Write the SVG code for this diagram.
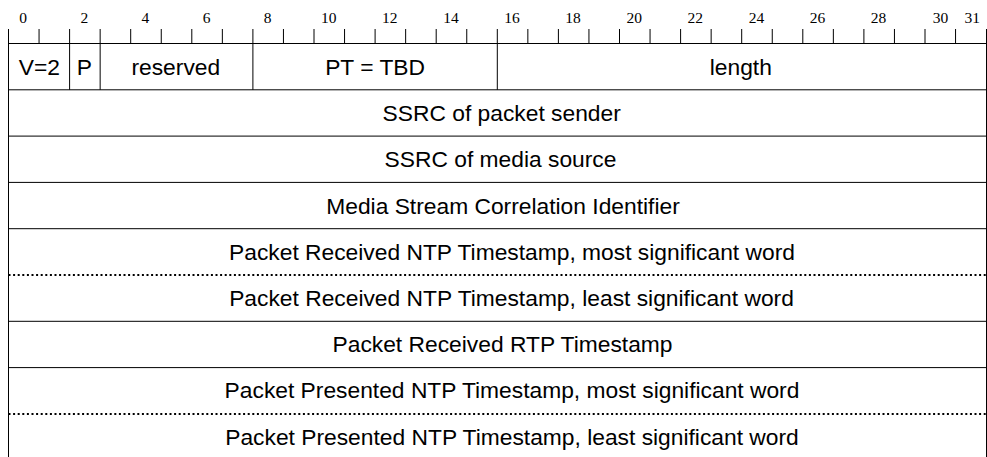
<svg xmlns="http://www.w3.org/2000/svg" width="987" height="457" viewBox="0 0 987 457">
<style>
.bg{fill:#ffffff}
.ln{stroke:#000;stroke-width:1;fill:none}
.tk{stroke:#000;stroke-width:1;fill:none}
.dot{stroke:#000;stroke-width:2;stroke-dasharray:2 2.6;fill:none}
.num{font-family:"Liberation Serif","Times New Roman",serif;font-size:15.5px;fill:#000;text-anchor:middle}
.lbl{font-family:"Liberation Sans",Arial,sans-serif;font-size:22.8px;fill:#000;text-anchor:middle}
</style>
<rect class="bg" x="0" y="0" width="987" height="457"/>
<g id="ruler">
<g class="tk">
<path d="M8.5 29V43.5M39.05 29V43.5M69.6 29V43.5M100.15 29V43.5M130.7 29V43.5M161.25 29V43.5M191.8 29V43.5M222.35 29V43.5M252.9 29V43.5M283.45 29V43.5M314 29V43.5M344.55 29V43.5M375.1 29V43.5M405.65 29V43.5M436.2 29V43.5M466.75 29V43.5M497.3 29V43.5M527.85 29V43.5M558.4 29V43.5M588.95 29V43.5M619.5 29V43.5M650.05 29V43.5M680.6 29V43.5M711.15 29V43.5M741.7 29V43.5M772.25 29V43.5M802.8 29V43.5M833.35 29V43.5M863.9 29V43.5M894.45 29V43.5M925 29V43.5M955.55 29V43.5M986.5 29V43.5"/>
</g>
<text class="num" x="23.2" y="23">0</text>
<text class="num" x="84.3" y="23">2</text>
<text class="num" x="145.4" y="23">4</text>
<text class="num" x="206.5" y="23">6</text>
<text class="num" x="267.6" y="23">8</text>
<text class="num" x="328.7" y="23">10</text>
<text class="num" x="389.8" y="23">12</text>
<text class="num" x="450.9" y="23">14</text>
<text class="num" x="512" y="23">16</text>
<text class="num" x="573.1" y="23">18</text>
<text class="num" x="634.2" y="23">20</text>
<text class="num" x="695.3" y="23">22</text>
<text class="num" x="756.4" y="23">24</text>
<text class="num" x="817.5" y="23">26</text>
<text class="num" x="878.6" y="23">28</text>
<text class="num" x="940.5" y="23">30</text>
<text class="num" x="972.2" y="23">31</text>
</g>
<g id="frame" class="ln">
<path d="M8.5 29V457M986.5 29V457"/>
<path d="M8.5 43.5H986.5M8.5 89.8H986.5M8.5 136.1H986.5M8.5 182.4H986.5M8.5 228.7H986.5M8.5 321.3H986.5M8.5 367.6H986.5"/>
<path d="M69.6 43.5V89.8M100.15 43.5V89.8M252.9 43.5V89.8M497.3 43.5V89.8"/>
</g>
<g id="dotted">
<path class="dot" d="M8.5 275H986.5"/>
<path class="dot" d="M8.5 413.9H986.5"/>
</g>
<g id="field-version"><text class="lbl" x="39.3" y="74.6">V=2</text></g>
<g id="field-padding"><text class="lbl" x="84.4" y="74.6">P</text></g>
<g id="field-reserved"><text class="lbl" x="175.8" y="74.6">reserved</text></g>
<g id="field-pt"><text class="lbl" x="375.1" y="74.6">PT = TBD</text></g>
<g id="field-length"><text class="lbl" x="740.8" y="74.6">length</text></g>
<g id="field-ssrc-sender"><text class="lbl" x="501.7" y="120.9">SSRC of packet sender</text></g>
<g id="field-ssrc-media"><text class="lbl" x="500.5" y="167.2">SSRC of media source</text></g>
<g id="field-msci"><text class="lbl" x="503" y="213.5">Media Stream Correlation Identifier</text></g>
<g id="field-recv-ntp-msw"><text class="lbl" x="512" y="259.8">Packet Received NTP Timestamp, most significant word</text></g>
<g id="field-recv-ntp-lsw"><text class="lbl" x="511.5" y="306.1">Packet Received NTP Timestamp, least significant word</text></g>
<g id="field-recv-rtp"><text class="lbl" x="502.5" y="352.4">Packet Received RTP Timestamp</text></g>
<g id="field-pres-ntp-msw"><text class="lbl" x="512" y="397.7">Packet Presented NTP Timestamp, most significant word</text></g>
<g id="field-pres-ntp-lsw"><text class="lbl" x="512" y="444.5">Packet Presented NTP Timestamp, least significant word</text></g>
</svg>
